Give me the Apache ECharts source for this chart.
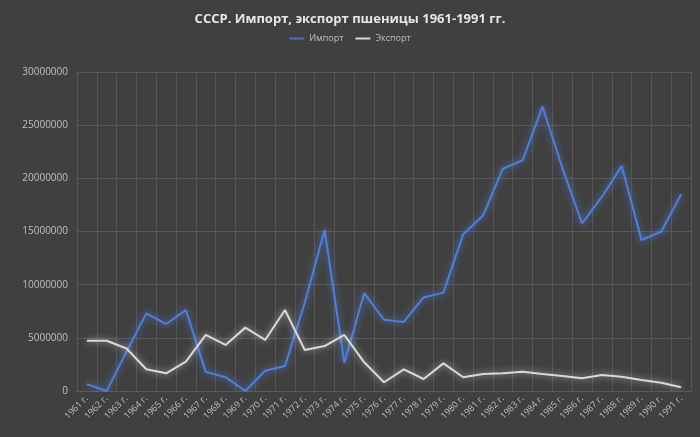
<!DOCTYPE html>
<html>
<head>
<meta charset="utf-8">
<script src="https://cdn.jsdelivr.net/npm/echarts@6/dist/echarts.min.js"></script>
<style>
  html, body { margin: 0; padding: 0; background: #404040; }
  #chart { width: 700px; height: 437px; }
</style>
</head>
<body>
<div id="chart"></div>
<script>
// годы
const years = ['1961 г.', '1962 г.', '1963 г.', '1964 г.', '1965 г.', '1966 г.', '1967 г.', '1968 г.',
  '1969 г.', '1970 г.', '1971 г.', '1972 г.', '1973 г.', '1974 г.', '1975 г.', '1976 г.', '1977 г.',
  '1978 г.', '1979 г.', '1980 г.', '1981 г.', '1982 г.', '1983 г.', '1984 г.', '1985 г.', '1986 г.',
  '1987 г.', '1988 г.', '1989 г.', '1990 г.', '1991 г.'];

// импорт, т (оценка по картинке)
const importValues = [650000, 0, 3700000, 7300000, 6300000, 7600000, 1800000, 1300000,
  0, 1900000, 2350000, 8300000, 15150000, 2650000, 9200000, 6700000, 6500000,
  8800000, 9250000, 14750000, 16500000, 20900000, 21700000, 26750000, 21000000, 15750000,
  18250000, 21150000, 14200000, 15000000, 18500000];

// экспорт, т
const exportValues = [4730000, 4730000, 4000000, 2040000, 1660000, 2760000, 5270000, 4330000,
  5960000, 4800000, 7620000, 3860000, 4230000, 5270000, 2700000, 820000, 2040000,
  1130000, 2600000, 1290000, 1600000, 1660000, 1820000, 1600000, 1410000, 1190000,
  1500000, 1350000, 1030000, 780000, 350000];

const chart = echarts.init(document.getElementById('chart'));

chart.setOption({
  backgroundColor: '#404040',
  animation: false,
  title: {
    text: 'СССР. Импорт, экспорт пшеницы 1961-1991 гг.',
    left: 'center',
    top: 8,
    textStyle: {
      color: '#e6e6e6',
      fontFamily: 'Open Sans',
      fontSize: 13,
      fontWeight: 'bold'
    }
  },
  legend: {
    top: 29,
    left: 'center',
    itemWidth: 15,
    itemHeight: 2,
    itemGap: 12,
    icon: 'rect',
    textStyle: { color: '#bfbfbf', fontSize: 9, fontFamily: 'Open Sans' },
    data: ['Импорт', 'Экспорт']
  },
  grid: {
    left: 77,
    right: 9,
    top: 72,
    bottom: 46
  },
  xAxis: {
    type: 'category',
    data: years,
    boundaryGap: true,
    axisLine: { lineStyle: { color: '#595959' } },
    axisTick: { show: false },
    splitLine: { show: true, interval: 0, lineStyle: { color: '#575757', width: 1 } },
    axisLabel: {
      interval: 0,
      rotate: 45,
      color: '#bfbfbf',
      fontSize: 9,
      fontFamily: 'Open Sans',
      margin: 6
    }
  },
  yAxis: {
    type: 'value',
    min: 0,
    max: 30000000,
    interval: 5000000,
    axisLine: { show: false },
    axisTick: { show: false },
    splitLine: { lineStyle: { color: '#595959', width: 1 } },
    axisLabel: {
      color: '#bfbfbf',
      fontSize: 10,
      fontFamily: 'Open Sans',
      margin: 9,
      formatter: (v) => String(v)
    }
  },
  series: [
    {
      name: 'Импорт',
      type: 'line',
      data: importValues,
      symbol: 'none',
      color: '#4472c4',
      lineStyle: {
        color: '#4f7fd6',
        width: 2,
        shadowColor: 'rgba(90,140,255,0.8)',
        shadowBlur: 7
      }
    },
    {
      name: 'Экспорт',
      type: 'line',
      data: exportValues,
      symbol: 'none',
      color: '#d9d9d9',
      lineStyle: {
        color: '#d9d9d9',
        width: 2,
        shadowColor: 'rgba(255,255,255,0.6)',
        shadowBlur: 7
      }
    }
  ]
});
</script>
</body>
</html>
